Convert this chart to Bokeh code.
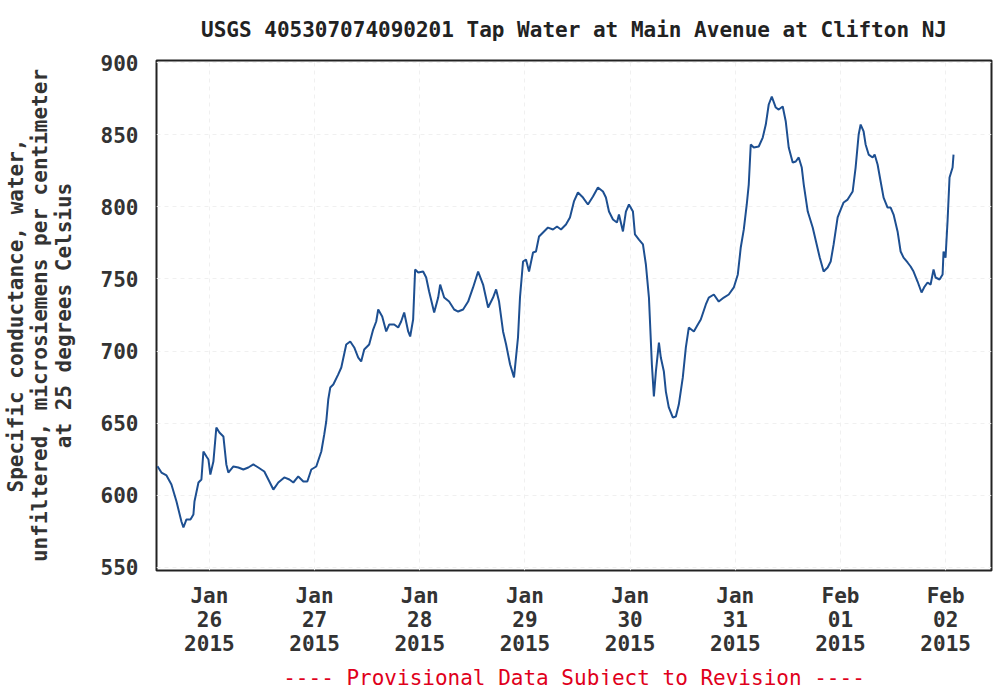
import pandas as pd
from bokeh.plotting import figure
from bokeh.models import FixedTicker, CustomJSTickFormatter, Title, Range1d
from bokeh.embed import file_html
from bokeh.resources import INLINE

# time offsets in days from 2015-01-26 00:00 and specific conductance values (uS/cm)
days = [-0.494, -0.456, -0.408, -0.361, -0.313, -0.266, -0.247, -0.218, -0.180, -0.152,
        -0.142, -0.104, -0.076, -0.057, -0.028, -0.009, 0.009, 0.038, 0.066, 0.095,
        0.133, 0.161, 0.180, 0.228, 0.275, 0.323, 0.370, 0.418, 0.465, 0.522,
        0.570, 0.608, 0.655, 0.712, 0.760, 0.798, 0.845, 0.893, 0.931, 0.969,
        1.016, 1.064, 1.092, 1.111, 1.130, 1.149, 1.178, 1.225, 1.254, 1.301,
        1.339, 1.377, 1.415, 1.443, 1.472, 1.519, 1.557, 1.586, 1.605, 1.643,
        1.681, 1.709, 1.757, 1.795, 1.823, 1.852, 1.890, 1.909, 1.937, 1.956,
        1.985, 2.032, 2.061, 2.089, 2.137, 2.175, 2.194, 2.232, 2.279, 2.327,
        2.365, 2.412, 2.460, 2.507, 2.555, 2.602, 2.650, 2.697, 2.726, 2.754,
        2.792, 2.821, 2.859, 2.896, 2.934, 2.953, 2.982, 3.010, 3.039, 3.077,
        3.105, 3.134, 3.172, 3.219, 3.267, 3.305, 3.343, 3.390, 3.428, 3.466,
        3.504, 3.552, 3.599, 3.647, 3.694, 3.742, 3.770, 3.799, 3.837, 3.875,
        3.894, 3.932, 3.960, 3.989, 4.027, 4.046, 4.084, 4.122, 4.150, 4.179,
        4.207, 4.226, 4.245, 4.274, 4.292, 4.321, 4.340, 4.368, 4.406, 4.435,
        4.463, 4.501, 4.530, 4.558, 4.606, 4.644, 4.672, 4.720, 4.748, 4.796,
        4.843, 4.891, 4.938, 4.986, 5.024, 5.052, 5.081, 5.109, 5.128, 5.147,
        5.176, 5.223, 5.261, 5.290, 5.318, 5.347, 5.385, 5.413, 5.451, 5.480,
        5.508, 5.546, 5.575, 5.603, 5.632, 5.651, 5.689, 5.736, 5.774, 5.803,
        5.840, 5.878, 5.907, 5.935, 5.973, 6.002, 6.030, 6.068, 6.116, 6.144,
        6.173, 6.192, 6.220, 6.239, 6.268, 6.306, 6.325, 6.353, 6.382, 6.410,
        6.448, 6.477, 6.505, 6.543, 6.572, 6.600, 6.638, 6.667, 6.695, 6.733,
        6.771, 6.800, 6.828, 6.857, 6.885, 6.904, 6.942, 6.971, 6.980, 6.999,
        7.018, 7.037, 7.066, 7.075]

conductance = [620.2, 615.8, 613.8, 607.5, 595.7, 581.9, 577.7, 583.3, 583.3, 586.7,
               595.7, 608.9, 611.0, 630.4, 626.9, 624.8, 614.4, 623.4, 647.0, 643.6,
               640.8, 621.4, 615.8, 620.0, 619.3, 617.9, 619.3, 621.4, 619.3, 616.5,
               609.6, 604.0, 608.9, 612.4, 611.0, 608.9, 613.1, 609.6, 609.6, 617.9,
               620.0, 630.4, 642.2, 651.2, 666.4, 674.7, 676.8, 683.8, 688.6, 704.5,
               706.6, 702.5, 695.5, 692.8, 701.1, 704.5, 714.9, 720.5, 728.8, 723.9,
               713.6, 718.4, 718.4, 716.3, 720.5, 726.7, 713.6, 710.1, 721.9, 756.5,
               754.5, 755.1, 751.0, 741.3, 726.7, 737.1, 746.1, 737.1, 734.3, 728.8,
               727.4, 728.8, 734.3, 744.1, 755.1, 746.1, 730.2, 737.1, 742.7, 734.3,
               713.6, 704.5, 690.7, 681.7, 709.4, 737.1, 762.1, 763.5, 755.1, 768.3,
               769.0, 779.4, 782.2, 785.6, 784.3, 786.3, 784.3, 787.7, 792.6, 803.7,
               809.9, 806.4, 801.6, 807.1, 813.4, 810.6, 806.4, 796.7, 791.2, 789.1,
               794.6, 782.9, 796.7, 801.6, 796.7, 780.8, 777.3, 773.9, 760.0, 737.1,
               690.7, 668.5, 685.8, 705.9, 695.5, 685.8, 671.9, 660.9, 654.0, 654.6,
               662.9, 681.7, 702.5, 716.3, 713.6, 718.4, 721.9, 732.3, 737.1, 739.2,
               734.3, 737.1, 739.2, 744.1, 753.1, 771.8, 784.3, 801.6, 815.4, 843.2,
               841.1, 841.8, 848.0, 857.0, 870.9, 876.4, 868.8, 867.4, 869.5, 859.1,
               841.1, 830.7, 831.4, 834.2, 827.2, 815.4, 796.7, 785.6, 773.9, 764.8,
               755.1, 757.9, 762.1, 773.9, 792.6, 798.1, 803.0, 805.0, 810.6, 827.2,
               850.1, 857.0, 852.2, 843.2, 836.2, 834.2, 836.2, 829.3, 817.5, 806.4,
               799.5, 799.5, 794.6, 782.9, 769.0, 764.8, 761.4, 758.6, 755.1, 748.2,
               740.6, 744.7, 747.5, 746.1, 756.5, 751.0, 749.6, 753.1, 769.0, 764.8,
               789.8, 820.3, 827.2, 836.2]

tick_dates = ["2015-01-26", "2015-01-27", "2015-01-28", "2015-01-29",
              "2015-01-30", "2015-01-31", "2015-02-01", "2015-02-02"]
y_ticks = [550, 600, 650, 700, 750, 800, 850, 900]

base = pd.Timestamp("2015-01-26 00:00")
times = [base + pd.Timedelta(days=d) for d in days]
tick_ms = [pd.Timestamp(t).value / 1e6 for t in tick_dates]

FONT = "DejaVu Sans Mono"
FS = "21px"

p = figure(frame_width=835, frame_height=510, x_axis_type="datetime",
           output_backend="svg", toolbar_location=None,
           min_border_left=148, min_border_right=2,
           min_border_top=55, min_border_bottom=119,
           background_fill_color="white", border_fill_color="white")

p.x_range = Range1d(base + pd.Timedelta(days=-0.503), base + pd.Timedelta(days=7.436))
p.y_range = Range1d(547.9, 901.4)

p.line(times, conductance, line_color="#1d4f91", line_width=2)

p.title.text = "USGS 405307074090201 Tap Water at Main Avenue at Clifton NJ"
p.title.text_font = FONT
p.title.text_font_size = FS
p.title.text_font_style = "bold"
p.title.text_color = "#222222"
p.title.align = "center"
p.title.vertical_align = "top"
p.title.text_line_height = 0.5
p.title.standoff = 34

p.outline_line_color = "#222222"
p.outline_line_width = 2

p.xaxis.ticker = FixedTicker(ticks=tick_ms)
p.xaxis.formatter = CustomJSTickFormatter(code="""
const d = new Date(tick);
const m = ["Jan","Feb","Mar","Apr","May","Jun","Jul","Aug","Sep","Oct","Nov","Dec"][d.getUTCMonth()];
const dd = String(d.getUTCDate()).padStart(2, "0");
return m + "\\n" + dd + "\\n" + d.getUTCFullYear();
""")
p.yaxis.ticker = FixedTicker(ticks=y_ticks)

for ax in (p.xaxis[0], p.yaxis[0]):
    ax.axis_line_color = None
    ax.major_tick_line_color = None
    ax.minor_tick_line_color = None
    ax.major_label_text_font = FONT
    ax.major_label_text_font_size = FS
    ax.major_label_text_font_style = "bold"
    ax.major_label_text_color = "#333333"
    ax.major_label_text_line_height = 1.0

p.xaxis.major_label_standoff = 7
p.yaxis.major_label_standoff = 12

p.yaxis.axis_label = "Specific conductance, water,\nunfiltered, microsiemens per centimeter\nat 25 degrees Celsius"
p.yaxis.axis_label_text_font = FONT
p.yaxis.axis_label_text_font_size = FS
p.yaxis.axis_label_text_font_style = "bold"
p.yaxis.axis_label_text_color = "#333333"
p.yaxis.axis_label_text_line_height = 1.0
p.yaxis.axis_label_standoff = 22

p.xgrid.grid_line_color = "#f0f0f0"
p.ygrid.grid_line_color = "#f0f0f0"
p.xgrid.grid_line_dash = "4 4"
p.ygrid.grid_line_dash = "4 4"

footer = Title(text="---- Provisional Data Subject to Revision ----",
               text_font=FONT, text_font_size=FS, text_font_style="normal",
               text_color="#e0001b", align="center", standoff=10)
p.add_layout(footer, "below")

open("out.html", "w").write(file_html(p, INLINE))
